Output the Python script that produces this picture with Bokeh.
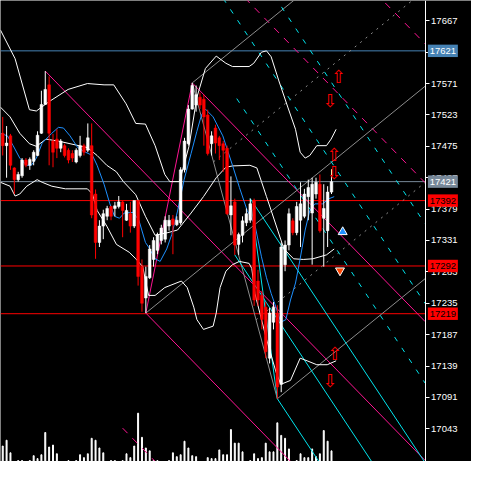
from bokeh.plotting import figure
from bokeh.models import Range1d, FixedTicker, ColumnDataSource
from bokeh.embed import file_html
from bokeh.resources import INLINE
from bokeh.core.properties import value

# ---------------- data ----------------
highs = [17520,17506,17494,17443,17436,17457,17457,17458,17469,17498,17560,17590,17582,17494,17501,17486,17479,17472,17469,17472,
         17491,17479,17510,17510,17409,17362,17378,17384,17384,17390,17399,17392,17387,17390,17392,17392,17302,17291,17324,17336,
         17343,17355,17368,17370,17370,17368,17443,17488,17538,17572,17568,17557,17554,17531,17498,17508,17491,17483,17476,17429,
         17395,17343,17368,17380,17395,17395,17286,17254,17237,17228,17237,17232,17328,17331,17380,17365,17390,17420,17410,17424,
         17427,17427,17432,17417,17414,17440]
opens = [17495,17476,17491,17442,17424,17430,17454,17446,17452,17461,17495,17539,17569,17483,17486,17472,17476,17469,17464,17451,
         17461,17476,17469,17476,17402,17328,17353,17368,17383,17380,17383,17390,17362,17372,17353,17392,17291,17243,17274,17302,
         17316,17331,17333,17353,17364,17355,17358,17439,17479,17532,17538,17550,17547,17523,17479,17503,17488,17479,17472,17370,
         17390,17325,17339,17358,17362,17392,17269,17247,17229,17151,17206,17220,17111,17294,17324,17361,17343,17362,17368,17398,
         17373,17402,17417,17365,17346,17405]
closes = [17476,17480,17446,17424,17432,17454,17446,17455,17466,17492,17539,17562,17495,17466,17472,17483,17461,17454,17457,17469,
          17476,17466,17488,17370,17328,17353,17372,17380,17368,17384,17390,17377,17377,17353,17392,17276,17235,17276,17318,17331,
          17340,17350,17362,17362,17355,17362,17439,17483,17532,17568,17554,17538,17520,17464,17491,17480,17476,17469,17372,17384,
          17324,17340,17361,17372,17387,17240,17240,17210,17161,17220,17229,17107,17321,17324,17372,17343,17383,17387,17402,17412,
          17417,17420,17346,17380,17405,17421]
lows = [17461,17427,17439,17402,17421,17427,17443,17439,17446,17460,17494,17539,17446,17443,17457,17466,17458,17449,17451,17449,
        17458,17461,17466,17365,17303,17321,17333,17362,17362,17368,17380,17336,17361,17343,17350,17262,17222,17220,17272,17291,
        17310,17325,17328,17346,17310,17353,17355,17435,17476,17531,17528,17532,17476,17461,17461,17464,17454,17436,17370,17339,
        17309,17309,17328,17353,17358,17231,17231,17195,17151,17143,17195,17089,17099,17284,17316,17339,17339,17321,17365,17362,
        17294,17395,17343,17291,17321,17402]
volumes = [16,22,9,0,1,1,0,1,6,3,7,30,15,17,8,0,0,1,0,1,7,4,8,24,22,14,9,0,1,1,0,1,8,4,16,50,25,14,11,1,
           1,0,0,1,9,5,7,21,14,6,5,0,0,4,3,3,12,7,7,33,19,19,10,0,1,8,3,4,19,10,10,40,27,24,13,0,1,8,4,4,
           13,5,8,32,21,11]

tick_values = [17043,17091,17139,17187,17235,17283,17331,17379,17427,17475,17523,17571,17619,17667]
tick_labels = [str(t) for t in tick_values]

bid_level = 17421
ask_level = 17621
red_levels = [17392, 17292, 17219]

# indicator lines (bar index, price)
ma_x = [-0.6,1.2,2.7,4.4,6.2,7.4,8.7,10.2,12.7,14.4,15.7,17.4,19.4,21.4,23.2,24.4,26.2,27.7,28.9,30.2,31.4,33.7,35.2,36.9,37.7,
        39.4,40.7,42.4,43.7,45.2,46.9,48.7,50.2,51.4,52.4,54.4,56.9,59.4,61.2,63.2,65.2,66.9,68.2,69.4,70.7,71.9,73.2,74.4,75.7,
        76.9,78.2,79.4,80.7,82.7,84.4,85.7]
ma_y = [17495,17491,17476,17457,17446,17446,17457,17480,17495,17504,17503,17491,17473,17466,17461,17446,17417,17387,17368,17365,
        17373,17374,17362,17328,17321,17303,17299,17318,17340,17376,17424,17464,17498,17523,17532,17520,17491,17446,17412,17377,
        17355,17306,17274,17250,17228,17206,17210,17240,17266,17303,17347,17377,17387,17387,17395,17398]
up_x = [-0.6,3.2,6.9,8.7,11.9,16.9,21.9,26.2,28.7,31.9,34.4,36.9,39.4,41.9,43.2,45.7,48.2,50.2,52.4,55.2,57.7,59.4,63.7,64.9,
        66.9,68.2,69.4,71.4,73.7,75.7,76.9,78.2,79.4,81.2,83.7,84.9,86.2]
up_y = [17653,17609,17531,17529,17543,17562,17571,17569,17569,17540,17510,17509,17476,17432,17421,17421,17476,17550,17594,17613,
        17602,17597,17597,17602,17619,17621,17612,17575,17535,17501,17466,17457,17461,17476,17476,17486,17501]
mid_x = [-0.6,1.9,4.4,6.9,8.7,11.2,14.4,21.9,24.4,26.9,29.4,31.2,34.4,36.9,39.4,42.7,45.2,48.7,51.9,55.2,57.7,59.4,63.9,65.7,
         66.9,68.2,69.4,72.7,75.2,77.7,80.2,83.7,85.7]
mid_y = [17535,17520,17495,17479,17475,17486,17483,17473,17461,17446,17436,17421,17401,17368,17339,17343,17347,17373,17398,17427,
         17443,17445,17446,17442,17421,17398,17377,17318,17303,17302,17303,17309,17318]
lo_x = [-0.6,1.9,3.2,4.4,6.2,8.9,10.2,12.7,16.2,21.9,23.2,24.4,26.9,29.4,32.7,34.4,36.2,37.7,39.4,41.9,46.2,47.7,49.4,50.2,51.9,
        54.4,55.2,56.2,57.7,59.4,61.2,63.7,64.4,65.2,68.2,70.7,71.9,74.4,76.9,78.7,81.2,83.9,86.2]
lo_y = [17420,17414,17399,17402,17414,17424,17420,17414,17410,17410,17402,17377,17353,17325,17313,17303,17291,17247,17247,17259,
        17269,17259,17229,17210,17195,17200,17220,17259,17284,17294,17299,17296,17288,17250,17180,17129,17111,17117,17151,17147,
        17141,17141,17147]

# pitchfork anchors (bar index, price) and their extra level multiples
pink_fork_x = [11, 37, 49]
pink_fork_y = [17590, 17220, 17572]
pink_levels = [2, 3, -2]
gray_fork_x = [37, 49, 71]
gray_fork_y = [17220, 17572, 17089]
gray_levels = [0.5, -0.5]
cyan_fork_x = [60, 64, 71]
cyan_fork_y = [17309, 17395, 17089]
cyan_levels = [-2, -3, -4]

up_arrows_x = [86.9, 85.7, 85.9]
up_arrows_y = [17582, 17463, 17158]
dn_arrows_x = [84.7, 85.7, 84.7]
dn_arrows_y = [17545, 17435, 17117]
buy_mark = (87.9, 17344)
sell_mark = (87.2, 17285)

# ---------------- figure ----------------
X0, X1, XR = -0.575, 109.2, 121.2      # X1: price-axis position
p = figure(width=471, height=461, x_range=Range1d(X0, XR), y_range=Range1d(16993, 17698),
           output_backend="svg", toolbar_location=None, x_axis_location=None, y_axis_location="right",
           background_fill_color="black", border_fill_color="black", outline_line_color=None,
           min_border_left=0, min_border_top=0, min_border_bottom=0, min_border_right=0)
p.grid.visible = False
p.extra_y_ranges = {"vol": Range1d(0, 477)}

ax = p.yaxis[0]
ax.fixed_location = X1
ax.ticker = FixedTicker(ticks=tick_values)
ax.major_label_overrides = {t: l for t, l in zip(tick_values, tick_labels)}
ax.axis_line_color = "white"
ax.major_tick_line_color = "white"
ax.minor_tick_line_color = None
ax.major_tick_in = 0
ax.major_tick_out = 4
ax.major_label_standoff = 2
ax.major_label_text_color = "white"
ax.major_label_text_font = "Liberation Sans"
ax.major_label_text_font_size = "9.5px"

# volume
p.vbar(x=list(range(len(volumes))), top=volumes, bottom=0, width=0.25, color="white", y_range_name="vol")

# horizontal levels (stop at the price axis)
p.segment(x0=[X0], y0=[ask_level], x1=[X1], y1=[ask_level], line_color="#4682B4", line_width=1)
p.segment(x0=[X0], y0=[bid_level], x1=[X1], y1=[bid_level], line_color="#778899", line_width=1)
p.segment(x0=[X0] * 3, y0=red_levels, x1=[X1] * 3, y1=red_levels, line_color="red", line_width=1)

def fork(xs, ys, color, levels, level_dash):
    (x0, y0), (x1, y1), (x2, y2) = zip(xs, ys)
    mx, my = (x1 + x2) / 2, (y1 + y2) / 2
    s = (my - y0) / (mx - x0)
    for xa, ya in ((x0, y0), (x1, y1), (x2, y2)):
        p.line([xa, X1], [ya, ya + s * (X1 - xa)], line_color=color, line_width=1)
    p.line([x1, x2], [y1, y2], line_color=color, line_width=1)
    w = y2 - (my + s * (x2 - mx))
    s12 = (y2 - y1) / (x2 - x1)
    b12 = y1 - s12 * x1
    for k in levels:
        c = my + k * w - s * mx
        xs_ = (c - b12) / (s12 - s)
        ys_ = s12 * xs_ + b12
        p.line([xs_, X1], [ys_, ys_ + s * (X1 - xs_)], line_color=color, line_width=1, line_dash=level_dash)

fork(pink_fork_x, pink_fork_y, "#ff1493", pink_levels, "7 7")
fork(gray_fork_x, gray_fork_y, "#8c8c8c", gray_levels, "2 5")
fork(cyan_fork_x, cyan_fork_y, "#00e5ee", cyan_levels, "5 8")

# indicators
p.line(up_x, up_y, line_color="white", line_width=1)
p.line(mid_x, mid_y, line_color="white", line_width=1)
p.line(lo_x, lo_y, line_color="white", line_width=1)
p.line(ma_x, ma_y, line_color="#1e90ff", line_width=1)

# candles
idx = list(range(len(opens)))
bull = [i for i in idx if closes[i] >= opens[i]]
bear = [i for i in idx if closes[i] < opens[i]]
for sel, col in ((bull, "white"), (bear, "red")):
    src = ColumnDataSource(dict(x=sel, h=[highs[i] for i in sel], l=[lows[i] for i in sel],
                                top=[max(opens[i], closes[i]) for i in sel],
                                bot=[min(opens[i], closes[i]) for i in sel]))
    p.segment(x0="x", y0="h", x1="x", y1="l", source=src, line_color=col, line_width=1)
    p.vbar(x="x", top="top", bottom="bot", width=0.7, source=src, fill_color=col, line_color=col, line_width=0.5)

# arrows
p.text(x=up_arrows_x, y=up_arrows_y, text=["\u21e7"] * 3, text_color="red", text_font=value("DejaVu Sans"),
       text_font_size="18px", text_align="center", text_baseline="middle")
p.text(x=dn_arrows_x, y=dn_arrows_y, text=["\u21e9"] * 3, text_color="red", text_font=value("DejaVu Sans"),
       text_font_size="18px", text_align="center", text_baseline="middle")
p.scatter([buy_mark[0]], [buy_mark[1]], marker="triangle", size=9, fill_color="#1e90ff", line_color="white")
p.scatter([sell_mark[0]], [sell_mark[1]], marker="inverted_triangle", size=9, fill_color="#ff4500", line_color="white")

# price tags on the axis
tag_vals = [ask_level, bid_level] + red_levels
tag_bg = ["#4682B4", "#778899"] + ["red"] * 3
tag_fg = ["white", "white"] + ["black"] * 3
tag_x = [113.8] * len(tag_vals)
p.rect(x=tag_x, y=tag_vals, width=7.75, height=19, fill_color=tag_bg, line_color=None, level="overlay")
p.text(x=tag_x, y=tag_vals, text=[str(v) for v in tag_vals], text_color=tag_fg, text_font=value("Liberation Sans"),
       text_font_size="9.5px", text_align="center", text_baseline="middle", level="overlay")

open("out.html", "w").write(file_html(p, INLINE))
